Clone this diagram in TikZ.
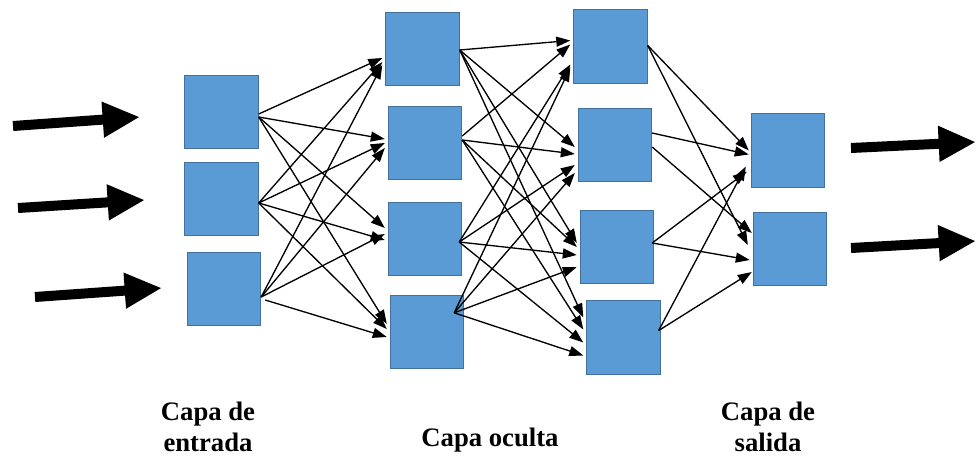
\documentclass[tikz,border=0pt]{standalone}
\usepackage{fontspec}
\setmainfont{Liberation Serif}
\usetikzlibrary{arrows.meta,calc}
\definecolor{boxfill}{HTML}{5B9BD5}
\definecolor{boxline}{HTML}{41719C}
\begin{document}
\begin{tikzpicture}[x=0.75pt,y=-0.75pt,
  neuron/.style={draw=boxline, fill=boxfill, line width=0.8pt, minimum width=55pt, minimum height=55pt, inner sep=0pt},
  conn/.style={line width=1pt, -{Triangle[length=10.5pt,width=7.5pt]}},
  bigarrow/.style={line width=7.5pt, -{Triangle[length=28pt,width=25pt]}},
  lbl/.style={font=\bfseries\fontsize{20}{23}\selectfont, align=center, inner sep=0pt}]
\useasboundingbox (0,0) rectangle (976,458);

% input layer
\node[neuron] (I1) at (221.5,112) {};
\node[neuron] (I2) at (221.5,199) {};
\node[neuron] (I3) at (224,289) {};
% hidden layer 1
\node[neuron] (H1) at (422.5,49) {};
\node[neuron] (H2) at (425,143) {};
\node[neuron] (H3) at (425,239) {};
\node[neuron] (H4) at (427,332) {};
% hidden layer 2
\node[neuron] (G1) at (610.5,46.5) {};
\node[neuron] (G2) at (615,145) {};
\node[neuron] (G3) at (617,247) {};
\node[neuron] (G4) at (623.5,337.5) {};
% output layer
\node[neuron] (O1) at (788,150.5) {};
\node[neuron] (O2) at (790,249) {};

% big input / output arrows
\coordinate (in1s) at (13,126);  \coordinate (in1e) at (140,117);
\coordinate (in2s) at (18,208);  \coordinate (in2e) at (145,200);
\coordinate (in3s) at (35,297);  \coordinate (in3e) at (162,288);
\coordinate (out1s) at (851,148); \coordinate (out1e) at (976,142);
\coordinate (out2s) at (851,248); \coordinate (out2e) at (976,241);
\draw[bigarrow] (in1s) -- (in1e);
\draw[bigarrow] (in2s) -- (in2e);
\draw[bigarrow] (in3s) -- (in3e);
\draw[bigarrow] (out1s) -- (out1e);
\draw[bigarrow] (out2s) -- (out2e);

% input -> hidden 1
\draw[conn] ($(I1.east)+(0,2)$) -- ($(H1.west)+(-3,9)$);
\draw[conn] ($(I2.east)+(0,4)$) -- ($(H1.west)+(-3,13)$);
\draw[conn] ($(I3.east)+(0,8)$) -- ($(H1.west)+(-3,16)$);
\draw[conn] ($(I1.east)+(0,5)$) -- ($(H2.west)+(-3,-4)$);
\draw[conn] ($(I2.east)+(0,4)$) -- ($(H2.west)+(-3,0)$);
\draw[conn] ($(I3.east)+(0,8)$) -- ($(H2.west)+(-3,5)$);
\draw[conn] ($(I1.east)+(0,5)$) -- ($(H3.west)+(-3,-11)$);
\draw[conn] ($(I2.east)+(0,4)$) -- ($(H3.west)+(-3,1)$);
\draw[conn] ($(I3.east)+(0,8)$) -- ($(H3.west)+(-3,-5)$);
\draw[conn] ($(I1.east)+(0,5)$) -- ($(H4.west)+(-3,-8)$);
\draw[conn] ($(I2.east)+(0,4)$) -- ($(H4.west)+(-3,-3)$);
\draw[conn] ($(I3.east)+(4,11)$) -- ($(H4.west)+(-3,5)$);

% hidden 1 -> hidden 2
\draw[conn] ($(H1.east)+(0,1)$) -- ($(G1.west)+(-3,-6)$);
\draw[conn] ($(H2.east)+(0,-7)$) -- ($(G1.west)+(-3,-2)$);
\draw[conn] ($(H3.east)+(-3,3)$) -- ($(G1.west)+(-3,18)$);
\draw[conn] ($(H4.north east)+(-10,18)$) -- ($(G1.west)+(-3,21)$);
\draw[conn] ($(H1.east)+(0,1)$) -- ($(G2.west)+(-3,2)$);
\draw[conn] ($(H2.east)+(0,-3)$) -- ($(G2.west)+(-3,9)$);
\draw[conn] ($(H3.east)+(-3,3)$) -- ($(G2.west)+(-3,20)$);
\draw[conn] ($(H4.north east)+(-10,18)$) -- ($(G2.west)+(-3,28)$);
\draw[conn] ($(H1.east)+(0,1)$) -- ($(G3.west)+(-3,-4)$);
\draw[conn] ($(H2.east)+(0,-3)$) -- ($(G3.west)+(-3,0)$);
\draw[conn] ($(H3.east)+(-3,3)$) -- ($(G3.west)+(-3,8)$);
\draw[conn] ($(H4.north east)+(-10,18)$) -- ($(G3.west)+(-3,20)$);
\draw[conn] ($(H1.east)+(0,1)$) -- ($(G4.west)+(-3,-20)$);
\draw[conn] ($(H2.east)+(0,-3)$) -- ($(G4.west)+(-3,-8)$);
\draw[conn] ($(H3.east)+(-3,3)$) -- ($(G4.west)+(-3,5)$);
\draw[conn] ($(H4.north east)+(-10,18)$) -- ($(G4.west)+(-3,18)$);

% hidden 2 -> output
\draw[conn] ($(G1.east)+(0,-1)$) -- ($(O1.west)+(-2,0)$);
\draw[conn] ($(G2.east)+(0,-12)$) -- ($(O1.west)+(-2,4)$);
\draw[conn] ($(G3.east)+(-2,-4)$) -- ($(O1.west)+(-4,21)$);
\draw[conn] ($(G4.east)+(-2,-7)$) -- ($(O1.west)+(-5,16)$);
\draw[conn] ($(G1.east)+(0,-1)$) -- ($(O2.west)+(-5,-4)$);
\draw[conn] ($(G2.east)+(0,2)$) -- ($(O2.west)+(-1,-16)$);
\draw[conn] ($(G3.east)+(-2,-4)$) -- ($(O2.west)+(-3,11)$);
\draw[conn] ($(G4.east)+(-2,-7)$) -- ($(O2.west)+(-1,23)$);

% labels
\node[lbl] (Lin) at (208,427) {Capa de\\entrada};
\node[lbl] (Lhid) at (490,440) {Capa oculta};
\node[lbl] (Lout) at (768,427) {Capa de\\salida};
\end{tikzpicture}
\end{document}
